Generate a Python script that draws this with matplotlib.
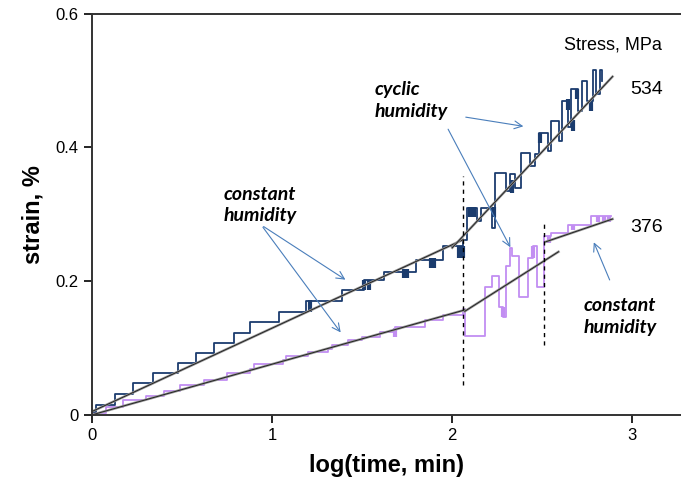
import matplotlib.pyplot as plt

plt.rcParams['font.family'] = ['Liberation Sans Narrow', 'Liberation Sans', 'DejaVu Sans']

# 534 MPa series (step data)
hi_x = [0, 0.02, 0.13, 0.23, 0.34, 0.48, 0.58, 0.68, 0.79, 0.88, 1.04, 1.19, 1.39, 1.51,
        1.62, 1.80, 1.95, 2.06, 2.08, 2.14, 2.16, 2.22, 2.24, 2.30, 2.32, 2.35, 2.38, 2.43,
        2.46, 2.48, 2.53, 2.55, 2.59, 2.61, 2.64, 2.66, 2.70, 2.72, 2.75, 2.78, 2.80, 2.82, 2.83]
hi_y = [0.005, 0.015, 0.031, 0.048, 0.063, 0.078, 0.093, 0.108, 0.123, 0.139, 0.154, 0.171,
        0.187, 0.202, 0.214, 0.232, 0.252, 0.262, 0.31, 0.29, 0.31, 0.28, 0.362, 0.335, 0.36,
        0.34, 0.392, 0.372, 0.39, 0.422, 0.395, 0.44, 0.41, 0.47, 0.43, 0.487, 0.455, 0.50,
        0.47, 0.516, 0.48, 0.516, 0.50]

# 376 MPa series (step data)
lo_x = [0, 0.08, 0.17, 0.30, 0.40, 0.49, 0.62, 0.75, 0.88, 0.90, 1.06, 1.08, 1.20, 1.31, 1.33,
        1.42, 1.50, 1.60, 1.68, 1.85, 1.95, 2.06, 2.07, 2.18, 2.22, 2.26, 2.28, 2.30, 2.32,
        2.33, 2.37, 2.42, 2.45, 2.47, 2.51, 2.55, 2.64, 2.77, 2.88]
lo_y = [0.003, 0.012, 0.022, 0.028, 0.036, 0.045, 0.052, 0.063, 0.069, 0.076, 0.082, 0.088,
        0.094, 0.098, 0.104, 0.112, 0.117, 0.124, 0.131, 0.142, 0.150, 0.159, 0.118, 0.192,
        0.207, 0.162, 0.147, 0.222, 0.25, 0.237, 0.177, 0.235, 0.252, 0.192, 0.267, 0.272,
        0.284, 0.297, 0.297]

# dense oscillation patches: x, low, high
hi_patch_x = [1.21, 1.51, 1.54, 1.73, 1.75, 1.88, 1.90, 2.04, 2.06, 2.10, 2.12, 2.23, 2.33,
              2.49, 2.64, 2.67, 2.69, 2.77]
hi_patch_lo = [0.154, 0.187, 0.187, 0.205, 0.205, 0.22, 0.22, 0.235, 0.235, 0.296, 0.296,
               0.296, 0.332, 0.407, 0.456, 0.424, 0.472, 0.455]
hi_patch_hi = [0.172, 0.202, 0.202, 0.218, 0.218, 0.235, 0.235, 0.252, 0.252, 0.311, 0.311,
               0.311, 0.352, 0.422, 0.472, 0.441, 0.487, 0.47]
lo_patch_x = [1.68, 2.28, 2.45, 2.54, 2.67, 2.81, 2.84, 2.87]
lo_patch_lo = [0.117, 0.147, 0.235, 0.257, 0.277, 0.289, 0.289, 0.289]
lo_patch_hi = [0.13, 0.162, 0.252, 0.267, 0.284, 0.297, 0.297, 0.297]

# trend lines
hi_fit = [([0, 2.06], [0.005, 0.262]), ([2.0, 2.89], [0.25, 0.506])]
lo_fit = [([0, 2.07], [0.0, 0.157]), ([2.07, 2.59], [0.155, 0.244]), ([2.52, 2.89], [0.259, 0.293])]

# dashed markers: x, y bottom, y top
dash_x = [2.06, 2.51]
dash_y0 = [0.045, 0.105]
dash_y1 = [0.358, 0.287]

navy = '#1B3C6E'
purple = '#C28EF2'
arrow_c = '#4A7EBB'

fig = plt.figure(figsize=(6.81, 4.91), dpi=100)
ax = fig.add_axes([0.135, 0.155, 0.865, 0.817])

ax.plot(lo_x, lo_y, drawstyle='steps-post', color=purple, lw=1.3)
ax.vlines(lo_patch_x, lo_patch_lo, lo_patch_hi, color=purple, lw=3)
ax.plot(hi_x, hi_y, drawstyle='steps-post', color=navy, lw=1.3)
ax.vlines(hi_patch_x, hi_patch_lo, hi_patch_hi, color=navy, lw=3)

for fx, fy in hi_fit + lo_fit:
    ax.plot(fx, fy, color='#9a9a9a', lw=1.8)
    ax.plot(fx, fy, color='#222222', lw=0.7)

ax.vlines(dash_x, dash_y0, dash_y1, colors='black', linestyles=(0, (3, 3)), lw=1)

ax.set_xlim(0, 3.27)
ax.set_ylim(0, 0.6)
ax.set_xticks([0, 1, 2, 3])
ax.set_yticks([0, 0.2, 0.4, 0.6])
ax.set_yticklabels(['0', '0.2', '0.4', '0.6'])
ax.tick_params(labelsize=12, length=6, width=1.2, direction='out')
for s in ['left', 'bottom', 'top']:
    ax.spines[s].set_linewidth(1.4)
    ax.spines[s].set_color('#333333')
ax.spines['right'].set_visible(False)
ax.set_xlabel('log(time, min)', fontsize=17, fontweight='bold', labelpad=8)
ax.set_ylabel('strain, %', fontsize=17, fontweight='bold', labelpad=8)

ann = dict(fontsize=14, fontweight='bold', fontstyle='italic', family=['Lato', 'DejaVu Sans'],
           linespacing=1.35)
ax.text(1.57, 0.47, 'cyclic\nhumidity', ha='left', va='center', **ann)
ax.text(0.73, 0.314, 'constant\nhumidity', ha='left', va='center', **ann)
ax.text(2.73, 0.147, 'constant\nhumidity', ha='left', va='center', **ann)
ax.text(2.89, 0.554, 'Stress, MPa', ha='center', va='center', fontsize=13)
ax.text(3.08, 0.487, '534', ha='center', va='center', fontsize=14)
ax.text(3.08, 0.281, '376', ha='center', va='center', fontsize=14)

arrows = [((2.06, 0.446), (2.41, 0.431)), ((1.97, 0.431), (2.33, 0.247)),
          ((0.94, 0.284), (1.42, 0.2)), ((0.94, 0.284), (1.39, 0.12)),
          ((2.88, 0.198), (2.78, 0.262))]
for start, end in arrows:
    ax.annotate('', xy=end, xytext=start,
                arrowprops=dict(arrowstyle='->', color=arrow_c, lw=0.8, mutation_scale=14))

fig.savefig('out.png', dpi=100)
